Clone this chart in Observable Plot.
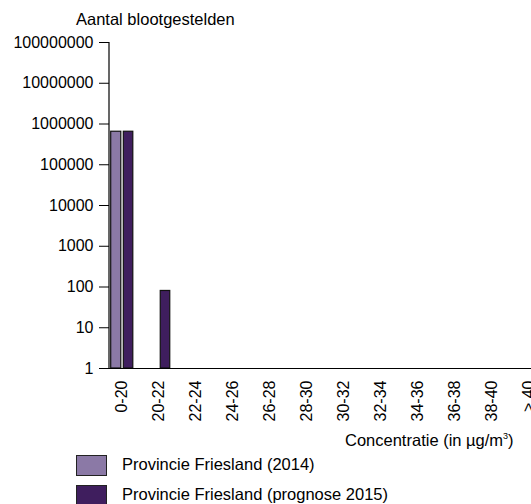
<!DOCTYPE html>
<html>
<head>
<meta charset="utf-8">
<script src="https://cdn.jsdelivr.net/npm/d3@7"></script>
<script src="https://cdn.jsdelivr.net/npm/@observablehq/plot@0.6"></script>
<style>
  html, body { margin: 0; padding: 0; background: #fff; }
  body { font-family: "Liberation Sans", Arial, sans-serif; }
  #wrap { position: relative; width: 531px; height: 504px; overflow: hidden; }
  #chart { position: absolute; left: 0; top: 0; width: 541px; }
  #chart svg { max-width: none !important; }
  .lbl { position: absolute; font-size: 16.5px; line-height: 1; white-space: nowrap; color: #000; }
  .sw { position: absolute; width: 29px; height: 19px; border: 1px solid #222; }
</style>
</head>
<body>
<div id="wrap">
  <div id="chart"></div>
  <div class="lbl" style="left:76px; top:11px;">Aantal blootgestelden</div>
  <div class="lbl" style="left:345px; top:432px;">Concentratie (in µg/m<sup style="font-size:9px; vertical-align:7px; line-height:0">3</sup>)</div>
  <div id="legend"></div>
</div>
<script>
const categories = ["0-20", "20-22", "22-24", "24-26", "26-28", "28-30", "30-32", "32-34", "34-36", "36-38", "38-40", "> 40"];
const values2014 = [646000, 0, 0, 0, 0, 0, 0, 0, 0, 0, 0, 0];
const values2015 = [645900, 80, 0, 0, 0, 0, 0, 0, 0, 0, 0, 0];
const seriesNames = ["Provincie Friesland (2014)", "Provincie Friesland (prognose 2015)"];
const seriesColors = ["#8b79a6", "#3f1e5e"];
const yTicks = [1, 10, 100, 1000, 10000, 100000, 1000000, 10000000, 100000000];

const rows2014 = categories.map((c, i) => ({cat: c, value: values2014[i]})).filter(d => d.value > 0);
const rows2015 = categories.map((c, i) => ({cat: c, value: values2015[i]})).filter(d => d.value > 0);

const yAxisLine = (index, scales, values, dims) => {
  const line = document.createElementNS("http://www.w3.org/2000/svg", "line");
  line.setAttribute("x1", dims.marginLeft);
  line.setAttribute("x2", dims.marginLeft);
  line.setAttribute("y1", dims.marginTop);
  line.setAttribute("y2", dims.height - dims.marginBottom);
  line.setAttribute("stroke", "#000");
  line.setAttribute("stroke-width", 1.2);
  return line;
};

const chart = Plot.plot({
  width: 541,
  height: 504,
  marginLeft: 109,
  marginRight: 0,
  marginTop: 42,
  marginBottom: 136,
  style: {fontFamily: "'Liberation Sans', Arial, sans-serif", fontSize: "16px", color: "#000", background: "transparent", maxWidth: "none"},
  x: {domain: categories, paddingInner: 0.31, paddingOuter: 0, round: false, tickRotate: -90, tickSize: 0, tickPadding: 12, label: null},
  y: {type: "log", domain: [1, 1e8], ticks: yTicks, tickFormat: d => d3.format("d")(d), tickSize: 10, tickPadding: 6, label: null},
  marks: [
    Plot.barY(rows2014, {x: "cat", y1: 1, y2: "value", fill: seriesColors[0], stroke: "#111", strokeWidth: 1.2, insetLeft: 1.7, insetRight: 13.7}),
    Plot.barY(rows2015, {x: "cat", y1: 1, y2: "value", fill: seriesColors[1], stroke: "#111", strokeWidth: 1.2, insetLeft: 14.3, insetRight: 1.7}),
    Plot.ruleY([1], {stroke: "#000", strokeWidth: 1.2}),
    yAxisLine
  ]
});
document.getElementById("chart").appendChild(chart);

const legend = document.getElementById("legend");
seriesNames.forEach((name, i) => {
  const top = 455 + i * 30;
  const sw = document.createElement("div");
  sw.className = "sw";
  sw.style.left = "76px";
  sw.style.top = top + "px";
  sw.style.background = seriesColors[i];
  legend.appendChild(sw);
  const t = document.createElement("div");
  t.className = "lbl";
  t.style.left = "122px";
  t.style.top = (top + 1) + "px";
  t.textContent = name;
  legend.appendChild(t);
});
</script>
</body>
</html>
